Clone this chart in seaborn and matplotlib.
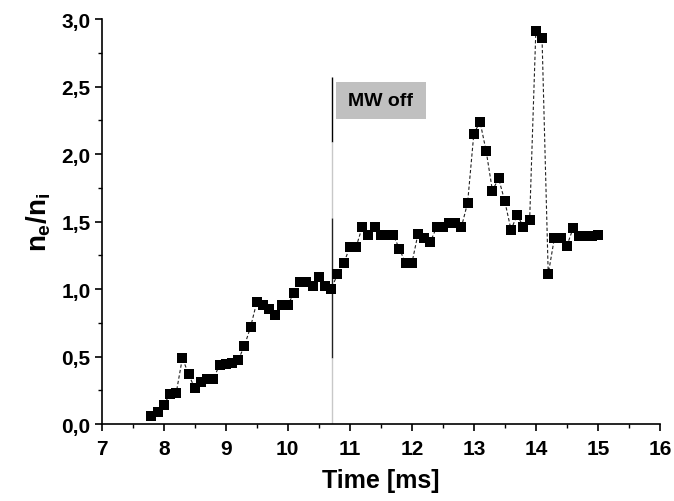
import matplotlib
matplotlib.use("Agg")
import matplotlib.pyplot as plt
import seaborn as sns
import pandas as pd
from matplotlib.ticker import MultipleLocator
from matplotlib.patches import Rectangle
from matplotlib import font_manager as fm

time_ms = [7.8, 7.9, 8.0, 8.1, 8.2, 8.3, 8.4, 8.5, 8.6, 8.7, 8.8, 8.9,
           9.0, 9.1, 9.2, 9.3, 9.4, 9.5, 9.6, 9.7, 9.8, 9.9,
           10.0, 10.1, 10.2, 10.3, 10.4, 10.5, 10.6, 10.7, 10.8, 10.9,
           11.0, 11.1, 11.2, 11.3, 11.4, 11.5, 11.6, 11.7, 11.8, 11.9,
           12.0, 12.1, 12.2, 12.3, 12.4, 12.5, 12.6, 12.7, 12.8, 12.9,
           13.0, 13.1, 13.2, 13.3, 13.4, 13.5, 13.6, 13.7, 13.8, 13.9,
           14.0, 14.1, 14.2, 14.3, 14.4, 14.5, 14.6, 14.7, 14.8, 14.9,
           15.0]
ratio = [0.06, 0.09, 0.145, 0.22, 0.23, 0.49, 0.37, 0.265, 0.315, 0.335, 0.335, 0.44,
         0.445, 0.455, 0.475, 0.58, 0.72, 0.905, 0.885, 0.85, 0.81, 0.885,
         0.885, 0.97, 1.05, 1.05, 1.02, 1.09, 1.02, 1.00, 1.11, 1.19,
         1.31, 1.31, 1.46, 1.40, 1.46, 1.40, 1.40, 1.40, 1.30, 1.19,
         1.19, 1.41, 1.38, 1.35, 1.46, 1.46, 1.49, 1.49, 1.46, 1.64,
         2.15, 2.24, 2.02, 1.73, 1.82, 1.65, 1.44, 1.55, 1.46, 1.51,
         2.91, 2.86, 1.11, 1.38, 1.38, 1.32, 1.45, 1.39, 1.39, 1.39,
         1.40]

x_ticks = [7, 8, 9, 10, 11, 12, 13, 14, 15, 16]
x_tick_labels = ["7", "8", "9", "10", "11", "12", "13", "14", "15", "16"]
y_ticks = [0.0, 0.5, 1.0, 1.5, 2.0, 2.5, 3.0]
y_tick_labels = ["0,0", "0,5", "1,0", "1,5", "2,0", "2,5", "3,0"]

mw_off_time = 10.72
annotation_text = "MW off"

sns.set_theme(style="ticks")
plt.rcParams["font.family"] = ["Liberation Sans", "DejaVu Sans"]
plt.rcParams["font.weight"] = "bold"
plt.rcParams["text.color"] = "black"
plt.rcParams["mathtext.fontset"] = "custom"
plt.rcParams["mathtext.rm"] = "Liberation Sans:bold"
plt.rcParams["mathtext.it"] = "Liberation Sans:bold"
plt.rcParams["mathtext.bf"] = "Liberation Sans:bold"

bold_path = fm.findfont(fm.FontProperties(family="Liberation Sans", weight="bold"))
tick_fp = fm.FontProperties(fname=bold_path, size=15)

df = pd.DataFrame({"t": time_ms, "r": ratio})

fig = plt.figure(figsize=(6.74, 5.02), dpi=100)
ax = fig.add_axes([0.151, 0.153, 0.828, 0.807])

sns.lineplot(data=df, x="t", y="r", ax=ax, color="#222222", lw=0.8,
             linestyle=(0, (3, 2)), zorder=2)
sns.scatterplot(data=df, x="t", y="r", ax=ax, marker="s", s=55,
                color="black", edgecolor="black", linewidth=0, zorder=3)

# MW off vertical line (rendered with the uneven tones of the original)
ax.vlines(mw_off_time, 2.09, 2.57, color="black", lw=1.0, zorder=1)
ax.vlines(mw_off_time, 1.53, 2.09, color="#c8c8c8", lw=1.0, zorder=1)
ax.vlines(mw_off_time, 0.49, 1.53, color="#222222", lw=1.0, zorder=1)
ax.vlines(mw_off_time, 0.0, 0.49, color="#c8c8c8", lw=1.0, zorder=1)

ax.add_patch(Rectangle((10.77, 2.262), 1.46, 0.273, facecolor="#c0c0c0",
                       edgecolor="none", zorder=1))
ax.text(11.5, 2.40, annotation_text, ha="center", va="center",
        fontsize=14, fontweight="bold", color="black", zorder=4)

ax.set_xticks(x_ticks)
ax.set_xticklabels(x_tick_labels, fontproperties=tick_fp, color="black")
ax.set_yticks(y_ticks)
ax.set_yticklabels(y_tick_labels, fontproperties=tick_fp, color="black")
ax.xaxis.set_minor_locator(MultipleLocator(0.5))
ax.yaxis.set_minor_locator(MultipleLocator(0.25))
ax.set_xlim(7, 16)
ax.set_ylim(0, 3.0)

ax.tick_params(axis="both", which="major", direction="out", length=5, width=1.2,
               color="black")
ax.tick_params(axis="x", which="major", pad=6)
ax.tick_params(axis="y", which="major", pad=3)
ax.tick_params(axis="both", which="minor", direction="out", length=3, width=1.0,
               color="black")

for s in ["top", "right"]:
    ax.spines[s].set_visible(False)
for s in ["left", "bottom"]:
    ax.spines[s].set_color("black")
    ax.spines[s].set_linewidth(1.2)

ax.set_xlabel("Time [ms]", fontsize=18, fontweight="bold", color="black", labelpad=7)
ax.set_ylabel(r"$n_e/n_i$", fontsize=20, fontweight="bold", color="black", labelpad=6)

fig.savefig("out.png", dpi=100)
